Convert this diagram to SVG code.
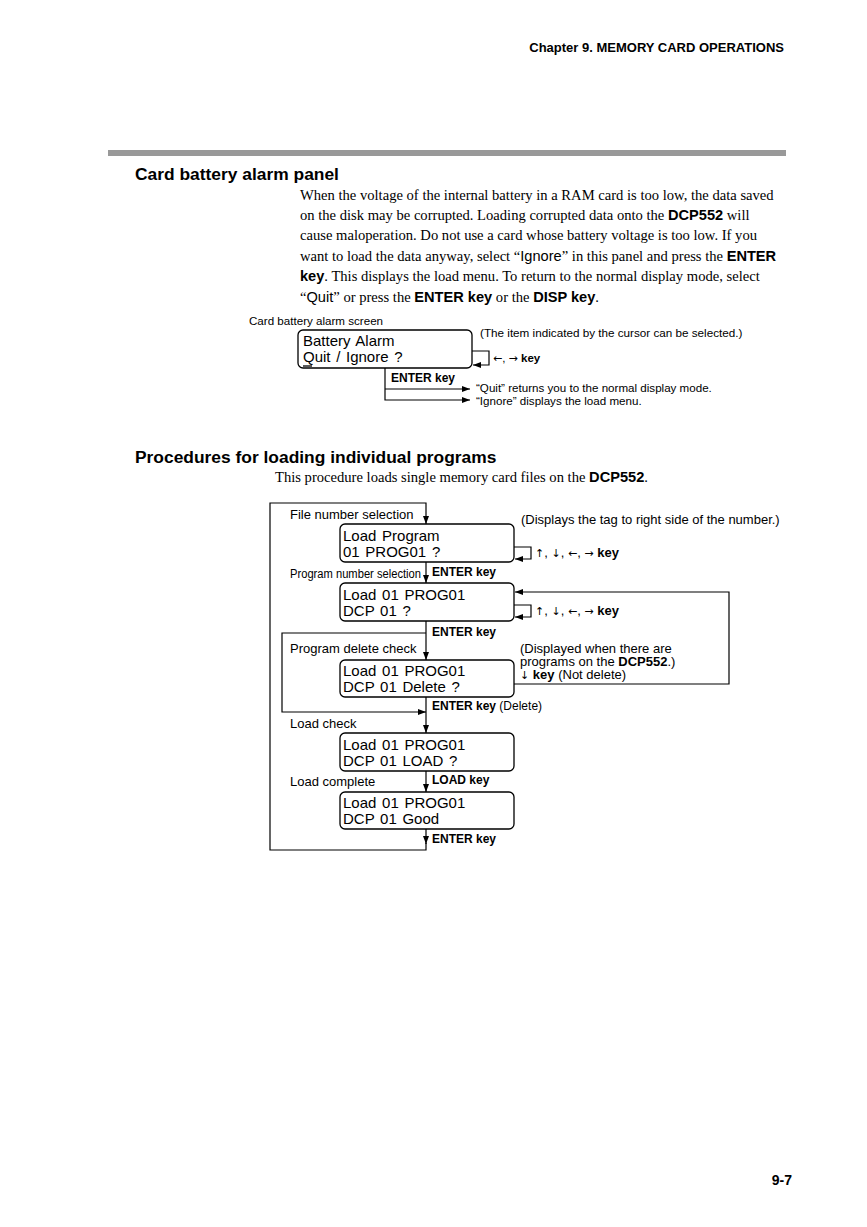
<svg xmlns="http://www.w3.org/2000/svg" width="867" height="1227" viewBox="0 0 867 1227">
<style>
.bg{fill:#fff}
.sans{font-family:"Liberation Sans",Arial,sans-serif;fill:#000}
.serif{font-family:"Liberation Serif","Times New Roman",serif;fill:#000;font-size:14.6px}
.b{font-weight:bold}
.ar{font-family:"DejaVu Sans",sans-serif;font-size:11px}
.lcd{font-family:"Liberation Sans",Arial,sans-serif;font-size:15px;fill:#000;word-spacing:1.5px}
.box{fill:#fff;stroke:#000;stroke-width:1.3}
.ln{fill:none;stroke:#000;stroke-width:1.2}
</style>
<defs>
<marker id="ah" markerUnits="userSpaceOnUse" markerWidth="9" markerHeight="7" refX="8" refY="3.5" orient="auto">
<path d="M0,0.5 L8,3.5 L0,6.5 z" fill="#000"/>
</marker>
</defs>
<rect class="bg" x="0" y="0" width="867" height="1227"/>

<g id="header">
<text class="sans b" x="784" y="52" font-size="13" text-anchor="end">Chapter 9. MEMORY CARD OPERATIONS</text>
<rect x="108" y="150" width="678" height="6" fill="#999"/>
<text class="sans b" x="135" y="180" font-size="17.4">Card battery alarm panel</text>
</g>

<g id="paragraph1">
<text class="serif" x="300" y="200">When the voltage of the internal battery in a RAM card is too low, the data saved</text>
<text class="serif" x="300" y="220">on the disk may be corrupted. Loading corrupted data onto the <tspan class="sans b">DCP552</tspan> will</text>
<text class="serif" x="300" y="240">cause maloperation. Do not use a card whose battery voltage is too low. If you</text>
<text class="serif" x="300" y="261">want to load the data anyway, select “<tspan class="sans">Ignore</tspan>” in this panel and press the <tspan class="sans b">ENTER</tspan></text>
<text class="serif" x="300" y="281"><tspan class="sans b">key</tspan>. This displays the load menu. To return to the normal display mode, select</text>
<text class="serif" x="300" y="302">“<tspan class="sans">Quit</tspan>” or press the <tspan class="sans b">ENTER key</tspan> or the <tspan class="sans b">DISP key</tspan>.</text>
</g>

<g id="alarm-screen">
<text class="sans" x="249" y="325" font-size="11.6">Card battery alarm screen</text>
<rect class="box" x="298" y="330" width="174" height="38" rx="5"/>
<text class="lcd" x="303" y="346">Battery Alarm</text>
<text class="lcd" x="303" y="362">Quit / Ignore ?</text>
<line x1="303" y1="366" x2="312" y2="366" stroke="#000" stroke-width="1.3"/>
<text class="sans" x="480" y="337" font-size="11.7">(The item indicated by the cursor can be selected.)</text>
<text class="sans" x="493" y="362" font-size="11.5"><tspan class="ar">←</tspan>, <tspan class="ar">→</tspan> <tspan class="b">key</tspan></text>
<text class="sans b" x="391" y="382" font-size="12">ENTER key</text>
<text class="sans" x="476" y="392" font-size="11.6">“Quit” returns you to the normal display mode.</text>
<text class="sans" x="476" y="405" font-size="11.6">“Ignore” displays the load menu.</text>
</g>

<g id="section2">
<text class="sans b" x="135" y="463" font-size="17.4">Procedures for loading individual programs</text>
<text class="serif" x="275" y="482">This procedure loads single memory card files on the <tspan class="sans b">DCP552</tspan>.</text>
</g>

<g id="node-file-number">
<text class="sans" x="290" y="519" font-size="13">File number selection</text>
<rect class="box" x="340" y="524" width="174" height="38" rx="5"/>
<text class="lcd" x="343" y="541">Load Program</text>
<text class="lcd" x="343" y="557">01 PROG01 ?</text>
<text class="sans" x="521" y="524" font-size="13">(Displays the tag to right side of the number.)</text>
<text class="sans" x="535" y="557" font-size="13"><tspan class="ar">↑</tspan>, <tspan class="ar">↓</tspan>, <tspan class="ar">←</tspan>, <tspan class="ar">→</tspan> <tspan class="b">key</tspan></text>
</g>

<g id="node-program-number">
<text class="sans" x="290" y="578" font-size="12" textLength="131" lengthAdjust="spacingAndGlyphs">Program number selection</text>
<text class="sans b" x="432" y="576" font-size="12">ENTER key</text>
<rect class="box" x="340" y="583" width="174" height="38" rx="5"/>
<text class="lcd" x="343" y="600">Load 01 PROG01</text>
<text class="lcd" x="343" y="616">DCP 01 ?</text>
<text class="sans" x="535" y="615" font-size="13"><tspan class="ar">↑</tspan>, <tspan class="ar">↓</tspan>, <tspan class="ar">←</tspan>, <tspan class="ar">→</tspan> <tspan class="b">key</tspan></text>
</g>

<g id="node-delete-check">
<text class="sans b" x="432" y="636" font-size="12">ENTER key</text>
<text class="sans" x="290" y="653" font-size="13">Program delete check</text>
<rect class="box" x="340" y="660" width="174" height="37" rx="5"/>
<text class="lcd" x="343" y="676">Load 01 PROG01</text>
<text class="lcd" x="343" y="692">DCP 01 Delete ?</text>
<text class="sans" x="520" y="653" font-size="13">(Displayed when there are</text>
<text class="sans" x="520" y="666" font-size="13">programs on the <tspan class="b">DCP552</tspan>.)</text>
<text class="sans" x="520" y="679" font-size="13"><tspan class="ar">↓</tspan> <tspan class="b">key</tspan> (Not delete)</text>
</g>

<g id="node-load-check">
<text class="sans" x="432" y="710" font-size="12"><tspan class="b">ENTER key</tspan> (Delete)</text>
<text class="sans" x="290" y="728" font-size="13">Load check</text>
<rect class="box" x="340" y="733" width="174" height="38" rx="5"/>
<text class="lcd" x="343" y="750">Load 01 PROG01</text>
<text class="lcd" x="343" y="766">DCP 01 LOAD ?</text>
</g>

<g id="node-load-complete">
<text class="sans" x="290" y="786" font-size="13">Load complete</text>
<text class="sans b" x="432" y="784" font-size="12">LOAD key</text>
<rect class="box" x="340" y="792" width="174" height="37" rx="5"/>
<text class="lcd" x="343" y="808">Load 01 PROG01</text>
<text class="lcd" x="343" y="824">DCP 01 Good</text>
<text class="sans b" x="432" y="843" font-size="12">ENTER key</text>
</g>

<g id="connectors">
<path class="ln" d="M472,351 H489 V365 H473" marker-end="url(#ah)"/>
<path class="ln" d="M385,368 V400 H470" marker-end="url(#ah)"/>
<path class="ln" d="M385,389 H470" marker-end="url(#ah)"/>

<path class="ln" d="M426,843 V850 H270 V503 H426 V524" marker-end="url(#ah)"/>
<path class="ln" d="M514,547 H531 V559 H515" marker-end="url(#ah)"/>
<path class="ln" d="M426,562 V583" marker-end="url(#ah)"/>
<path class="ln" d="M514,605 H531 V617 H515" marker-end="url(#ah)"/>
<path class="ln" d="M426,621 V660" marker-end="url(#ah)"/>
<path class="ln" d="M426,633 H282 V712 H426" marker-end="url(#ah)"/>
<path class="ln" d="M514,684 H729 V592 H515" marker-end="url(#ah)"/>
<path class="ln" d="M426,697 V733" marker-end="url(#ah)"/>
<path class="ln" d="M426,771 V792" marker-end="url(#ah)"/>
<path class="ln" d="M426,829 V844" marker-end="url(#ah)"/>
</g>

<g id="footer">
<text class="sans b" x="792" y="1185" font-size="14" text-anchor="end">9-7</text>
</g>
</svg>
